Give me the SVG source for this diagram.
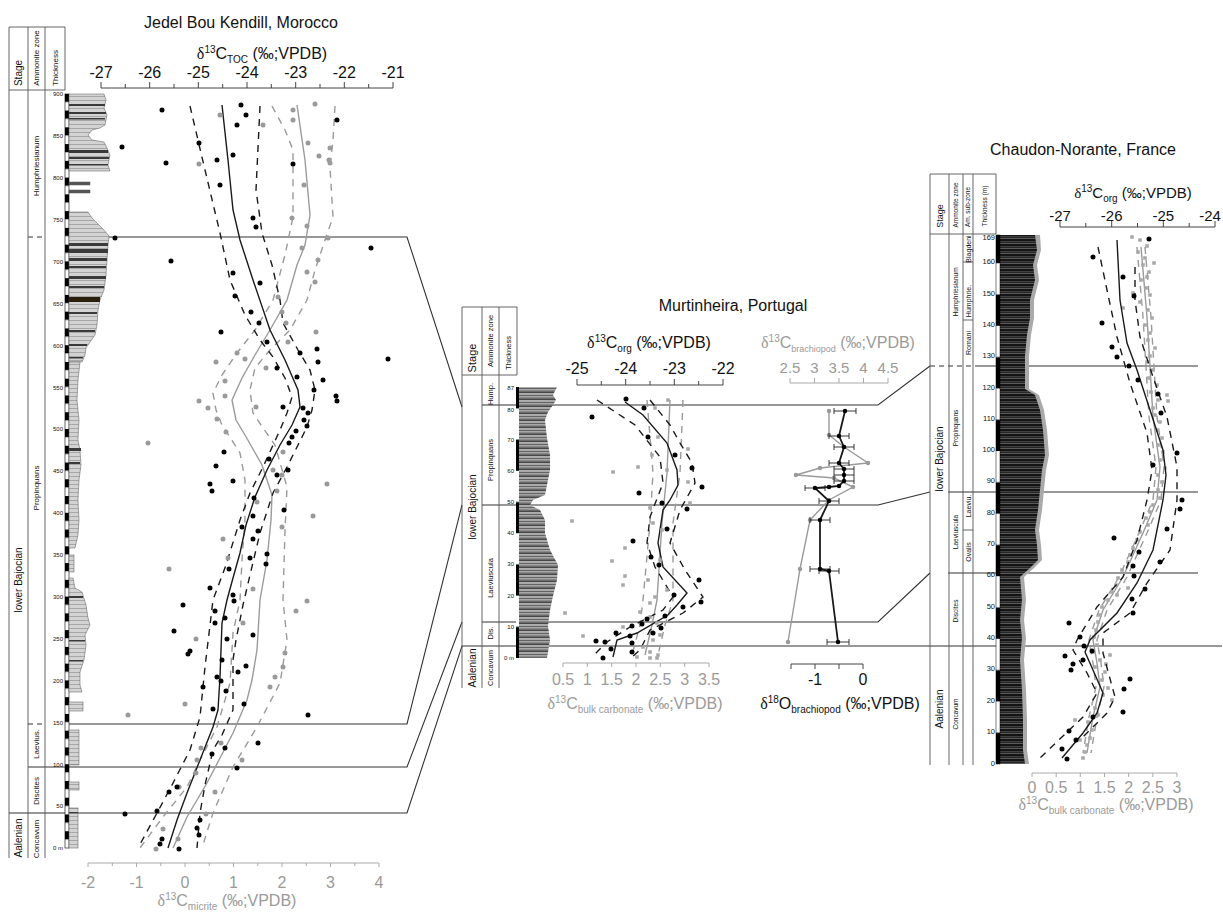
<svg xmlns="http://www.w3.org/2000/svg" width="1223" height="913" viewBox="0 0 1223 913">
<style>
.t{font-family:"Liberation Sans",Arial,sans-serif;fill:#111}
.g{fill:#9a9a9a}
.dl{font-family:"Liberation Serif","Times New Roman",serif}
.sup{font-size:10px}
.sub{font-size:10px}
.lab{font-size:16px}
.tk{font-size:16px}
.col{stroke:#555;stroke-width:0.9;fill:none}
.ax{stroke:#444;stroke-width:1;fill:none}
.axg{stroke:#aaa;stroke-width:1;fill:none}
.corr{stroke:#333;stroke-width:1.1;fill:none}
.bs{stroke:#1a1a1a;stroke-width:1.4;fill:none}
.bd{stroke:#1a1a1a;stroke-width:1.4;fill:none;stroke-dasharray:7 6}
.gs{stroke:#9a9a9a;stroke-width:1.4;fill:none}
.gd{stroke:#9a9a9a;stroke-width:1.4;fill:none;stroke-dasharray:7 6}
.bdot{stroke:#000;stroke-width:5;stroke-linecap:round;fill:none}
.gdot{stroke:#9a9a9a;stroke-width:5;stroke-linecap:round;fill:none}
.gsq{stroke:#a8a8a8;stroke-width:3.6;stroke-linecap:square;fill:none}
.th{font-size:6px}
.eb{stroke:#222;stroke-width:0.9;fill:none}
</style>
<defs>
<pattern id="sbJ" width="10" height="16.76" patternUnits="userSpaceOnUse" patternTransform="translate(0,848)"><rect width="10" height="8.38" fill="#000"/><rect y="8.38" width="10" height="8.38" fill="#fff"/></pattern>
<pattern id="sbM" width="10" height="62.4" patternUnits="userSpaceOnUse" patternTransform="translate(0,658)"><rect width="10" height="31.2" fill="#fff"/><rect y="31.2" width="10" height="31.2" fill="#000"/></pattern>
<pattern id="sbC" width="10" height="62.6" patternUnits="userSpaceOnUse" patternTransform="translate(0,764)"><rect width="10" height="31.3" fill="#fff"/><rect y="31.3" width="10" height="31.3" fill="#000"/></pattern>
<pattern id="jl" width="10" height="4" patternUnits="userSpaceOnUse"><rect width="10" height="4" fill="#d3d3d3"/><rect width="10" height="0.6" fill="#8a8a8a"/></pattern>
<pattern id="ml" width="10" height="7" patternUnits="userSpaceOnUse"><rect width="10" height="7" fill="#9a9a9a"/><rect width="10" height="0.8" fill="#333"/><rect y="1.6" width="10" height="0.7" fill="#c8c8c8"/><rect y="3" width="10" height="0.8" fill="#555"/><rect y="4.6" width="10" height="0.7" fill="#bbb"/><rect y="5.8" width="10" height="0.6" fill="#222"/></pattern>
<pattern id="cl" width="10" height="5" patternUnits="userSpaceOnUse"><rect width="10" height="5" fill="#141414"/><rect y="1.5" width="10" height="0.7" fill="#6a6a6a"/><rect y="3.4" width="10" height="0.6" fill="#888"/></pattern>
</defs>
<rect width="1223" height="913" fill="#fff"/>

<g id="connectors">
<path class="corr" d="M67,237H407L462,407M482,405H878L930,366M975,366H1198"/>
<path class="corr" d="M67,724H407L462,505M482,505H878L930,492M948,492H1198"/>
<path class="corr" d="M28,767H407L462,622M482,622H878L930,573M948,573H1198"/>
<path class="corr" d="M9,813H407L462,646H1222"/>
<path class="corr" stroke-dasharray="5 4" d="M28,237H45M28,724H45M930,366H973"/>
</g>

<g id="jedel">
<text x="241" y="28" class="t" font-size="16" text-anchor="middle">Jedel Bou Kendill, Morocco</text>
<path class="col" d="M9,27V858M28,27V858M45,27V858M65,27V90M9,27H65M9,90H65"/>
<text class="t" font-size="10" text-anchor="middle" transform="translate(22,73) rotate(-90)">Stage</text>
<text class="t" font-size="8" text-anchor="middle" transform="translate(39.3,58) rotate(-90)">Ammonite zone</text>
<text class="t" font-size="8" text-anchor="middle" transform="translate(57.8,68) rotate(-90)">Thickness</text>
<text class="t" font-size="10" text-anchor="middle" transform="translate(22,580) rotate(-90)">lower Bajocian</text>
<text class="t" font-size="10" text-anchor="middle" transform="translate(22,838) rotate(-90)">Aalenian</text>
<text class="t" font-size="8" text-anchor="middle" transform="translate(39.3,166) rotate(-90)">Humphriesianum</text>
<text class="t" font-size="8" text-anchor="middle" transform="translate(39.3,488) rotate(-90)">Propinquans</text>
<text class="t" font-size="8" text-anchor="middle" transform="translate(39.3,744) rotate(-90)">Laevius.</text>
<text class="t" font-size="8" text-anchor="middle" transform="translate(39.3,791) rotate(-90)">Discites</text>
<text class="t" font-size="8" text-anchor="middle" transform="translate(39.3,839) rotate(-90)">Concavum</text>
<g class="t th" text-anchor="end">
<text x="63" y="96">900</text><text x="63" y="138">850</text><text x="63" y="180">800</text><text x="63" y="222">750</text><text x="63" y="264">700</text><text x="63" y="306">650</text><text x="63" y="348">600</text><text x="63" y="390">550</text><text x="63" y="431">500</text><text x="63" y="473">450</text><text x="63" y="515">400</text><text x="63" y="557">350</text><text x="63" y="599">300</text><text x="63" y="641">250</text><text x="63" y="683">200</text><text x="63" y="725">150</text><text x="63" y="767">100</text><text x="63" y="808">50</text><text x="63" y="850">0 m</text>
</g>
<rect x="65" y="94" width="4" height="754" fill="url(#sbJ)" stroke="#000" stroke-width="0.6"/>
<g stroke="#555" stroke-width="0.5">
<polygon fill="url(#jl)" points="69,94 104,94 106,100 104,108 107,115 105,125 100,128 92,130 88,135 92,140 104,142 107,148 110,155 108,165 110,171 69,171"/>
<rect x="69" y="182" width="21" height="3" fill="#555"/>
<rect x="69" y="190" width="21" height="3" fill="#555"/>
<polygon fill="url(#jl)" points="69,212 88,212 92,218 98,224 104,230 109,236 108,245 107,260 106,275 104,290 100,300 98,310 97,325 95,335 90,342 86,348 85,355 82,362 69,362"/>
<polygon fill="url(#jl)" points="69,362 80,362 78,380 77,400 79,420 78,440 80,450 81,465 79,480 78,500 79,520 78,535 75,548 69,548"/>
<rect x="69" y="555" width="5" height="17" fill="url(#jl)"/>
<polygon fill="url(#jl)" points="69,578 73,578 75,588 82,592 86,605 88,618 90,625 85,635 86,645 84,660 80,672 80,685 82,692 69,692"/>
<rect x="69" y="702" width="14" height="9" fill="url(#jl)"/>
<rect x="69" y="730" width="10" height="35" fill="url(#jl)"/>
<rect x="69" y="782" width="10" height="8" fill="url(#jl)"/>
<rect x="69" y="808" width="9" height="40" fill="url(#jl)"/>
</g>
<g fill="#3a3a3a">
<rect x="69" y="104" width="36" height="2"/><rect x="69" y="112" width="37" height="2"/><rect x="69" y="118" width="36" height="1.5"/><rect x="69" y="150" width="39" height="3"/><rect x="69" y="157" width="40" height="2"/><rect x="69" y="164" width="39" height="1.5"/>
<rect x="69" y="243" width="39" height="3"/><rect x="69" y="249" width="39" height="4"/><rect x="69" y="258" width="38" height="3"/><rect x="69" y="266" width="37" height="2"/><rect x="69" y="276" width="37" height="3"/><rect x="69" y="286" width="35" height="2"/>
<rect x="69" y="297" width="31" height="5" fill="#2a1f0a"/><rect x="69" y="312" width="28" height="2"/><rect x="69" y="330" width="26" height="2"/><rect x="69" y="344" width="18" height="2"/><rect x="69" y="357" width="14" height="1.5"/>
<rect x="69" y="448" width="12" height="3"/><rect x="69" y="462" width="11" height="2"/><rect x="69" y="596" width="14" height="2"/><rect x="69" y="640" width="16" height="1.5"/><rect x="69" y="660" width="14" height="1.5"/><rect x="69" y="812" width="9" height="1.5"/>
</g>
<path class="ax" d="M101,88H393M101,88V82M125.3,88V84M149.7,88V82M174,88V84M198.3,88V82M222.7,88V84M247,88V82M271.3,88V84M295.7,88V82M320,88V84M344.3,88V82M368.7,88V84M393,88V82"/>
<g class="t tk" text-anchor="middle">
<text x="101" y="78">-27</text><text x="149.7" y="78">-26</text><text x="198.3" y="78">-25</text><text x="247" y="78">-24</text><text x="295.7" y="78">-23</text><text x="344.3" y="78">-22</text><text x="393" y="78">-21</text>
</g>
<text x="262" y="59" class="t lab" text-anchor="middle"><tspan class="dl">δ</tspan><tspan class="sup" dy="-6">13</tspan><tspan dy="6">C</tspan><tspan class="sub" dy="4">TOC</tspan><tspan dy="-4"> (‰;VPDB)</tspan></text>
<path class="axg" d="M88,863H379M88,863V867M112.3,863V866M136.5,863V867M160.8,863V866M185,863V867M209.3,863V866M233.5,863V867M257.8,863V866M282,863V867M306.3,863V866M330.5,863V867M354.8,863V866M379,863V867"/>
<g class="t g tk" text-anchor="middle">
<text class="g" x="88" y="888">-2</text><text class="g" x="136.5" y="888">-1</text><text class="g" x="185" y="888">0</text><text class="g" x="233.5" y="888">1</text><text class="g" x="282" y="888">2</text><text class="g" x="330.5" y="888">3</text><text class="g" x="379" y="888">4</text>
</g>
<text x="227" y="906" class="t g lab" text-anchor="middle"><tspan class="dl">δ</tspan><tspan class="sup" dy="-6">13</tspan><tspan dy="6">C</tspan><tspan class="sub" dy="4">micrite</tspan><tspan dy="-4"> (‰;VPDB)</tspan></text>
<path class="gd" d="M272,106L285,130L293,150L293,217L285,255L273,300L255,330L237,353L222,375L213,393L216,410L222,425L240,453L245,480L245,520L242,560L240,600L233,633L230,683L217,727L200,760L187,787L163,817L140,848"/>
<path class="gd" d="M335,106L333,140L330,167L333,217L325,240L315,270L307,300L290,330L270,350L255,368L250,390L253,413L263,428L275,445L287,487L285,530L283,600L287,640L280,683L257,727L233,767L213,813L202,848"/>
<path class="gs" d="M297,105L305,160L310,215L305,245L297,265L287,300L270,330L255,355L242,378L232,400L236,420L245,435L262,465L272,495L271,520L267,560L260,600L257,650L252,680L247,700L233,733L220,758L207,783L187,817L173,848"/>
<path class="bd" d="M190,106L205,170L220,233L230,280L245,315L260,340L273,357L285,378L292,397L287,413L280,430L263,467L250,493L240,520L226,565L213,600L205,667L200,717L190,750L172,785L157,813L138,848"/>
<path class="bd" d="M260,106L256,190L262,233L272,265L280,300L283,323L298,350L310,370L315,390L312,410L307,427L297,447L287,467L273,493L260,533L250,575L243,605L236,640L233,660L233,710L222,735L213,750L205,785L200,813L197,848"/>
<path class="bs" d="M222,105L228,160L233,210L240,240L253,280L270,330L285,360L298,390L300,407L292,425L280,445L267,470L255,497L246,525L240,553L233,578L227,600L222,623L220,677L218,710L213,727L200,760L187,793L177,820L168,848"/>
<path class="gdot" d="M220,115h0M263,125h0M293,110h0M293,120h0M315,104h0M308,143h0M330,148h0M319,156h0M329,160h0M330,163h0M199,164h0M304,185h0M292,218h0M307,226h0M328,238h0M302,248h0M318,260h0M307,272h0M315,282h0M278,297h0M282,312h0M286,323h0M316,332h0M288,342h0M245,359h0M266,368h0M237,353h0M216,362h0M225,381h0M225,396h0M199,401h0M208,408h0M217,419h0M226,432h0M256,407h0M148,443h0M283,452h0M273,470h0M282,475h0M277,491h0M327,484h0M313,516h0M282,527h0M257,502h0M223,539h0M228,558h0M169,569h0M253,589h0M307,601h0M243,623h0M196,639h0M296,611h0M285,653h0M283,667h0M275,677h0M270,687h0M185,704h0M128,715h0M201,748h0M221,743h0M197,760h0M242,760h0M196,773h0M179,787h0M215,792h0M206,814h0M163,829h0M178,839h0M156,849h0"/>
<path class="bdot" d="M162,110h0M241,105h0M246,115h0M237,125h0M199,143h0M122,147h0M337,120h0M233,155h0M217,160h0M166,163h0M293,164h0M220,185h0M253,218h0M256,227h0M115,238h0M371,248h0M171,261h0M233,273h0M260,283h0M235,296h0M251,312h0M259,323h0M267,342h0M221,332h0M300,353h0M317,349h0M318,362h0M277,368h0M388,359h0M323,380h0M297,377h0M314,390h0M336,396h0M337,401h0M283,407h0M303,408h0M308,413h0M304,420h0M307,426h0M296,431h0M292,437h0M289,443h0M224,452h0M216,466h0M269,459h0M288,470h0M277,475h0M233,481h0M210,484h0M212,491h0M254,498h0M284,510h0M253,516h0M242,527h0M258,531h0M253,539h0M267,554h0M250,558h0M266,564h0M229,569h0M210,588h0M233,595h0M183,605h0M234,601h0M215,611h0M225,618h0M215,623h0M174,631h0M253,635h0M227,639h0M190,651h0M188,654h0M222,660h0M246,666h0M238,672h0M217,677h0M221,681h0M203,687h0M226,691h0M244,704h0M213,709h0M308,715h0M258,743h0M225,748h0M212,754h0M237,768h0M177,787h0M169,792h0M157,811h0M125,814h0M200,820h0M197,828h0M199,835h0M162,839h0M160,844h0M179,849h0"/>
</g>

<g id="murtinheira">
<text x="733" y="311" class="t" font-size="16" text-anchor="middle">Murtinheira, Portugal</text>
<path class="col" d="M462,307V688M482,307V688M499,307V688M517,307V375M462,307H517M462,375H517"/>
<text class="t" font-size="11" text-anchor="middle" transform="translate(475.8,358) rotate(-90)">Stage</text>
<text class="t" font-size="7.5" text-anchor="middle" transform="translate(493.2,341) rotate(-90)">Ammonite zone</text>
<text class="t" font-size="7.5" text-anchor="middle" transform="translate(510.8,353) rotate(-90)">Thickness</text>
<text class="t" font-size="10" text-anchor="middle" transform="translate(475.5,507) rotate(-90)">lower Bajocian</text>
<text class="t" font-size="10" text-anchor="middle" transform="translate(475.5,668) rotate(-90)">Aalenian</text>
<text class="t" font-size="7.5" text-anchor="middle" transform="translate(493.2,394) rotate(-90)">Hump.</text>
<text class="t" font-size="7.5" text-anchor="middle" transform="translate(493.2,460) rotate(-90)">Propinquans</text>
<text class="t" font-size="7.5" text-anchor="middle" transform="translate(493.2,578) rotate(-90)">Laeviuscula</text>
<text class="t" font-size="7.5" text-anchor="middle" transform="translate(493.2,633) rotate(-90)">Dis.</text>
<text class="t" font-size="7.5" text-anchor="middle" transform="translate(493.2,668) rotate(-90)">Concavum</text>
<g class="t th" text-anchor="end">
<text x="514" y="390">87</text><text x="514" y="412">80</text><text x="514" y="442">70</text><text x="514" y="473">60</text><text x="514" y="504">50</text><text x="514" y="535">40</text><text x="514" y="566">30</text><text x="514" y="598">20</text><text x="514" y="629">10</text><text x="514" y="660">0 m</text>
</g>
<polygon fill="url(#ml)" points="519,387 557,387 553,395 556,400 553,405 548,412 545,420 547,438 550,455 550,470 547,485 545,495 533,500 530,505 540,510 545,520 545,533 550,550 558,565 557,580 553,596 550,610 548,626 550,640 547,658 519,658"/>
<rect x="516" y="387" width="3" height="271" fill="url(#sbM)"/>
<path class="ax" d="M577,385H723M577,385V379M601.3,385V381M625.7,385V379M650,385V381M674.3,385V379M698.7,385V381M723,385V379"/>
<g class="t tk" text-anchor="middle">
<text x="577" y="374">-25</text><text x="625.7" y="374">-24</text><text x="674.3" y="374">-23</text><text x="723" y="374">-22</text>
</g>
<text x="649" y="348" class="t lab" text-anchor="middle"><tspan class="dl">δ</tspan><tspan class="sup" dy="-6">13</tspan><tspan dy="6">C</tspan><tspan class="sub" dy="4">org</tspan><tspan dy="-4"> (‰;VPDB)</tspan></text>
<path class="axg" d="M563,663H709M563,663V667M587.3,663V667M611.7,663V667M636,663V667M660.3,663V667M684.7,663V667M709,663V667"/>
<g class="t tk" text-anchor="middle">
<text class="g" x="563" y="685">0.5</text><text class="g" x="587.3" y="685">1</text><text class="g" x="611.7" y="685">1.5</text><text class="g" x="636" y="685">2</text><text class="g" x="660.3" y="685">2.5</text><text class="g" x="684.7" y="685">3</text><text class="g" x="709" y="685">3.5</text>
</g>
<text x="635" y="709" class="t g lab" text-anchor="middle"><tspan class="dl">δ</tspan><tspan class="sup" dy="-6">13</tspan><tspan dy="6">C</tspan><tspan class="sub" dy="4">bulk carbonate</tspan><tspan dy="-4"> (‰;VPDB)</tspan></text>
<path class="gd" d="M647,400L653,473L650,523L643,600L640,625L632,655"/>
<path class="gd" d="M683,400L680,473L673,523L673,600L665,625L658,655"/>
<path class="gs" d="M670,400L667,473L662,523L657,600L652,625L645,655"/>
<path class="bd" d="M597,400L635,425L660,457L663,483L650,517L647,543L655,567L673,597L663,610L630,627L607,642L592,657"/>
<path class="bd" d="M650,400L670,425L680,443L692,463L695,483L680,510L670,543L685,570L703,597L683,613L650,630L640,650L632,657"/>
<path class="bs" d="M625,402L643,415L667,443L677,470L678,485L670,500L663,510L658,543L663,567L687,593L677,605L668,615L637,633L617,640L613,657"/>
<path class="gsq" d="M668,400h0M655,408h0M658,437h0M688,449h0M652,455h0M638,467h0M613,472h0M688,482h0M667,470h0M690,503h0M650,508h0M572,521h0M653,523h0M625,548h0M612,561h0M625,576h0M623,585h0M655,597h0M650,603h0M565,613h0M583,636h0M623,627h0M650,617h0M657,623h0M653,640h0M643,647h0M650,652h0M658,655h0M637,657h0M650,658h0M657,658h0M662,530h0M660,560h0M648,580h0M667,590h0M640,612h0M660,635h0M632,645h0"/>
<path class="bdot" d="M626,399h0M644,408h0M592,417h0M648,437h0M675,455h0M692,468h0M639,493h0M702,487h0M662,503h0M687,509h0M667,529h0M633,541h0M651,557h0M659,565h0M699,580h0M674,595h0M701,602h0M683,607h0M665,616h0M647,619h0M642,624h0M632,626h0M616,633h0M653,633h0M661,628h0M630,636h0M596,641h0M605,642h0M632,643h0M611,649h0M632,652h0M603,658h0"/>
<text x="838" y="348" class="t g" font-size="16" text-anchor="middle"><tspan class="dl">δ</tspan><tspan class="sup" dy="-6">13</tspan><tspan dy="6">C</tspan><tspan font-size="9" dy="4">brachiopod</tspan><tspan dy="-4"> (‰;VPDB)</tspan></text>
<g class="t" font-size="15" text-anchor="middle">
<text class="g" x="790" y="373">2.5</text><text class="g" x="814.5" y="373">3</text><text class="g" x="839" y="373">3.5</text><text class="g" x="863.5" y="373">4</text><text class="g" x="888" y="373">4.5</text>
</g>
<path class="axg" stroke="#888" d="M790,383H888M790,383V378M814.5,383V378M839,383V378M863.5,383V378M888,383V378"/>
<path class="ax" d="M791,664H863M791,664V669M815,664V669M839,664V669M863,664V669"/>
<g class="t tk" text-anchor="middle"><text x="815" y="685">-1</text><text x="863" y="685">0</text></g>
<text x="840" y="709" class="t lab" text-anchor="middle"><tspan class="dl">δ</tspan><tspan class="sup" dy="-6">18</tspan><tspan dy="6">O</tspan><tspan class="sub" dy="4">brachiopod</tspan><tspan dy="-4"> (‰;VPDB)</tspan></text>
<path class="gs" d="M829,411L829,435L844,447L868,463L820,468L796,475L834,478L853,487L829,500L810,520L800,569L788,642"/>
<path class="gdot" style="stroke-width:4.5" d="M829,411h0M829,435h0M844,447h0M868,463h0M820,468h0M796,475h0M834,478h0M853,487h0M829,500h0M810,520h0M800,569h0M788,642h0"/>
<path class="eb" d="M834,411H856M834,408V414M856,408V414M829,436H849M829,433V439M849,433V439M834,447H854M834,444V450M854,444V450M829,463H849M829,460V466M849,460V466M834,469H854M834,466V472M854,466V472M834,475H854M834,472V478M854,472V478M834,481H854M834,478V484M854,478V484M805,488H825M805,485V491M825,485V491M819,501H839M819,498V504M839,498V504M810,520H830M810,517V523M830,517V523M810,569H830M810,566V572M830,566V572M819,571H839M819,568V574M839,568V574M827,642H849M827,639V645M849,639V645"/>
<path class="bs" style="stroke-width:1.8" d="M845,411L839,436L844,447L839,463L844,469L844,475L844,481L839,486L829,487L815,488L829,501L820,520L820,569L829,571L838,642"/>
<path class="bdot" style="stroke-width:4.5" d="M845,411h0M839,436h0M844,447h0M839,463h0M844,469h0M844,475h0M844,481h0M839,486h0M829,487h0M815,488h0M829,501h0M820,520h0M820,569h0M829,571h0M838,642h0"/>
</g>

<g id="chaudon">
<text x="1083" y="155" class="t" font-size="16" text-anchor="middle">Chaudon-Norante, France</text>
<path class="col" d="M930,174V765M949,174V765M963,174V765M973,174V765M996,174V234M930,174H996M930,234H996M963,262H973M963,320H973M963,530H973"/>
<text class="t" font-size="9" text-anchor="middle" transform="translate(942.6,216) rotate(-90)">Stage</text>
<text class="t" font-size="6.5" text-anchor="middle" transform="translate(958.3,205) rotate(-90)">Ammonite zone</text>
<text class="t" font-size="6.5" text-anchor="middle" transform="translate(970.3,207) rotate(-90)">Am. sub-zone</text>
<text class="t" font-size="6.5" text-anchor="middle" transform="translate(986.8,206) rotate(-90)">Thickness (m)</text>
<text class="t" font-size="10" text-anchor="middle" transform="translate(943,459) rotate(-90)">lower Bajocian</text>
<text class="t" font-size="10" text-anchor="middle" transform="translate(943,709) rotate(-90)">Aalenian</text>
<text class="t" font-size="6.5" text-anchor="middle" transform="translate(958.3,292) rotate(-90)">Humphriesianum</text>
<text class="t" font-size="6.5" text-anchor="middle" transform="translate(958.3,428) rotate(-90)">Propinquans</text>
<text class="t" font-size="6.5" text-anchor="middle" transform="translate(958.3,532) rotate(-90)">Laeviuscula</text>
<text class="t" font-size="6.5" text-anchor="middle" transform="translate(958.3,611) rotate(-90)">Discites</text>
<text class="t" font-size="6.5" text-anchor="middle" transform="translate(958.3,714) rotate(-90)">Concavum</text>
<text class="t" font-size="7" text-anchor="middle" transform="translate(970.5,249) rotate(-90)">Blagdeni</text>
<text class="t" font-size="7" text-anchor="middle" transform="translate(970.5,301) rotate(-90)">Humphrie.</text>
<text class="t" font-size="7" text-anchor="middle" transform="translate(970.5,343) rotate(-90)">Romani</text>
<text class="t" font-size="7" text-anchor="middle" transform="translate(970.5,506) rotate(-90)">Laeviu.</text>
<text class="t" font-size="7" text-anchor="middle" transform="translate(970.5,552) rotate(-90)">Ovalis</text>
<g class="t" font-size="7.5" text-anchor="end">
<text x="995" y="240">169</text><text x="995" y="264">160</text><text x="995" y="296">150</text><text x="995" y="327">140</text><text x="995" y="358">130</text><text x="995" y="390">120</text><text x="995" y="421">110</text><text x="995" y="452">100</text><text x="995" y="483">90</text><text x="995" y="515">80</text><text x="995" y="546">70</text><text x="995" y="577">60</text><text x="995" y="609">50</text><text x="995" y="640">40</text><text x="995" y="671">30</text><text x="995" y="703">20</text><text x="995" y="734">10</text><text x="995" y="766">0</text>
</g>
<polygon fill="#aaa" points="1000,235 1040,235 1041,250 1037,265 1039,280 1034,300 1034,318 1031,335 1029,356 1029,389 1039,395 1044,410 1047,430 1049,455 1046,470 1044,490 1042,510 1039,530 1041,545 1042,560 1034,568 1024,577 1026,600 1024,620 1026,638 1024,660 1026,690 1027,720 1027,750 1029,764 1000,764"/>
<polygon fill="url(#cl)" points="1000,235 1035,235 1037,250 1033,265 1035,280 1030,300 1030,318 1027,335 1025,356 1025,389 1035,395 1040,410 1043,430 1045,455 1042,470 1040,490 1038,510 1035,530 1037,545 1038,560 1030,568 1020,577 1022,600 1020,620 1022,638 1020,660 1022,690 1023,720 1023,750 1025,764 1000,764"/>
<rect x="996" y="235" width="4" height="529" fill="url(#sbC)" stroke="#000" stroke-width="0.5"/>
<path class="ax" d="M1060,227H1215M1060,227V221M1085.8,227V223M1111.7,227V221M1137.5,227V223M1163.3,227V221M1189.2,227V223M1215,227V221"/>
<g class="t" font-size="15" text-anchor="middle">
<text x="1060" y="221">-27</text><text x="1111.7" y="221">-26</text><text x="1163.3" y="221">-25</text><text x="1210" y="221">-24</text>
</g>
<text x="1133" y="198" class="t" font-size="15" text-anchor="middle"><tspan class="dl">δ</tspan><tspan class="sup" dy="-6">13</tspan><tspan dy="6">C</tspan><tspan class="sub" dy="4">org</tspan><tspan dy="-4"> (‰;VPDB)</tspan></text>
<path class="axg" d="M1032,773H1177M1032,773V777M1056.2,773V777M1080.3,773V777M1104.5,773V777M1128.7,773V777M1152.8,773V777M1177,773V777"/>
<g class="t tk" text-anchor="middle">
<text class="g" x="1032" y="793">0</text><text class="g" x="1056.2" y="793">0.5</text><text class="g" x="1080.3" y="793">1</text><text class="g" x="1104.5" y="793">1.5</text><text class="g" x="1128.7" y="793">2</text><text class="g" x="1152.8" y="793">2.5</text><text class="g" x="1177" y="793">3</text>
</g>
<text x="1106" y="810" class="t g lab" text-anchor="middle"><tspan class="dl">δ</tspan><tspan class="sup" dy="-6">13</tspan><tspan dy="6">C</tspan><tspan class="sub" dy="4">bulk carbonate</tspan><tspan dy="-4"> (‰;VPDB)</tspan></text>
<path class="gd" d="M1137,247L1143,317L1146,367L1149,417L1156,467L1153,500L1139,533L1119,577L1099,610L1089,640L1093,663L1096,687L1089,717L1083,753"/>
<path class="gd" d="M1145,247L1151,317L1154,367L1157,417L1164,467L1161,500L1147,533L1127,577L1107,610L1097,640L1101,663L1104,687L1097,717L1091,753"/>
<path class="gs" d="M1141,247L1147,317L1150,367L1153,417L1160,467L1157,500L1143,533L1123,577L1103,610L1093,640L1097,663L1100,687L1093,717L1087,753"/>
<path class="gsq" d="M1140,240h0M1147,246h0M1138,252h0M1145,258h0M1143,265h0M1149,272h0M1141,280h0M1146,288h0M1150,295h0M1140,302h0M1148,310h0M1152,318h0M1145,325h0M1150,333h0M1148,340h0M1155,348h0M1150,356h0M1147,362h0M1153,370h0M1149,378h0M1157,385h0M1151,392h0M1158,400h0M1153,408h0M1155,415h0M1160,422h0M1157,430h0M1162,438h0M1158,445h0M1163,452h0M1160,460h0M1165,468h0M1158,475h0M1162,482h0M1158,490h0M1160,498h0M1153,505h0M1150,512h0M1146,518h0M1148,525h0M1140,532h0M1137,540h0M1133,548h0M1130,555h0M1128,562h0M1122,570h0M1118,578h0M1116,585h0M1112,592h0M1108,600h0M1102,607h0M1100,615h0M1098,622h0M1096,630h0M1094,637h0M1097,645h0M1093,652h0M1100,660h0M1095,667h0M1105,672h0M1102,680h0M1108,688h0M1103,695h0M1112,700h0M1095,708h0M1098,715h0M1088,722h0M1092,730h0M1090,738h0M1087,745h0M1085,752h0M1083,758h0M1132,237h0M1154,263h0M1147,277h0M1133,293h0M1123,308h0M1167,395h0M1168,401h0M1117,595h0M1128,588h0M1110,655h0M1106,664h0M1075,720h0M1080,740h0"/>
<path class="bd" d="M1098,247L1107,290L1117,337L1130,383L1147,433L1152,470L1147,500L1137,540L1123,577L1097,607L1077,640L1073,650L1087,673L1097,693L1083,717L1040,758"/>
<path class="bd" d="M1135,267L1135,300L1140,337L1153,377L1167,417L1177,467L1177,500L1170,550L1147,583L1130,613L1103,633L1103,653L1115,697L1107,713L1083,737"/>
<path class="bs" d="M1117,240L1120,300L1127,343L1137,370L1150,410L1163,450L1166,475L1163,500L1153,550L1137,583L1117,613L1090,640L1085,652L1093,670L1103,693L1097,713L1083,733L1062,758"/>
<path class="bdot" d="M1149,239h0M1093,257h0M1123,277h0M1134,296h0M1102,323h0M1112,347h0M1117,357h0M1129,366h0M1138,380h0M1158,394h0M1161,413h0M1177,453h0M1153,465h0M1182,500h0M1180,509h0M1167,529h0M1114,538h0M1139,552h0M1133,566h0M1160,562h0M1134,576h0M1145,589h0M1132,599h0M1133,613h0M1069,623h0M1080,637h0M1084,646h0M1092,651h0M1065,656h0M1083,660h0M1073,664h0M1071,670h0M1130,679h0M1124,689h0M1093,717h0M1123,712h0M1069,731h0M1076,740h0M1062,749h0M1067,759h0"/>
</g>
</svg>
